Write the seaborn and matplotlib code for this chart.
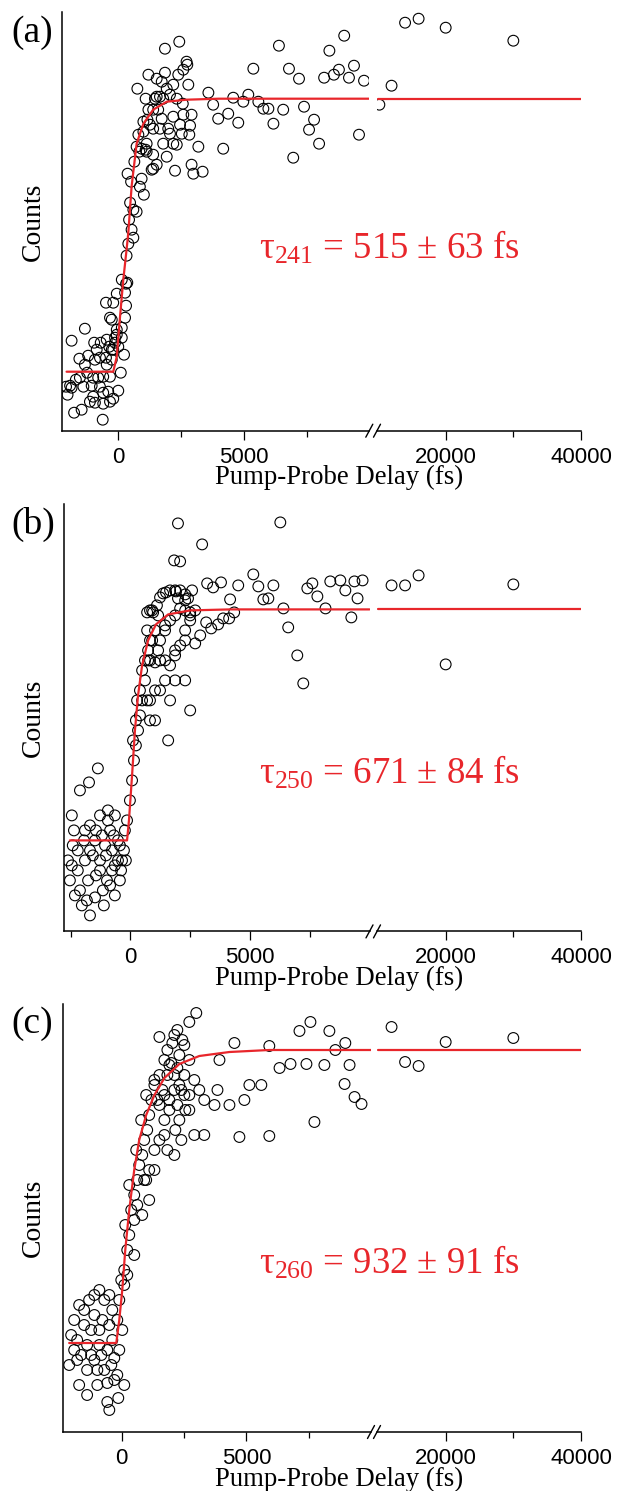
import numpy as np
import pandas as pd
import matplotlib
matplotlib.use("Agg")
import matplotlib.pyplot as plt
from matplotlib.lines import Line2D
import seaborn as sns

# ---------------- data (delay in fs, counts in arbitrary units) ----------------
# panel (a)
a_t = [-1860, -1330, -2080, -2020, -1920, -1760, -1460, -620, -1550, -1200, -960, -700, -460, -360,
       -860, -1330, -930, -730, -490, -260, -260, -130, -60, 140, 230, 100, -1690, -1530, -1240, -1000,
       -800, -600, -330, -1390, -1060, -730, -1860, -1000, -600, -400, 0, -200, -930, -600, -1130, -330,
       -460, -130, -330, -260, -60, 0, -200, -490, -200, -60, 140, 310, 360, 270, 310, 270, 140, 330,
       370, 510, 640, 470, 600, 730, 860, 1020, 930, 430, 530, 600, 400, 840, 930, 730, 1130, 1090, 800,
       1000, 1160, 1000, 1260, 1390, 1200, 1390, 1590, 1090, 1460, 1660, 760, 1200, 1530, 1860, 1730,
       1930, 2190, 2390, 2790, 2590, 2750, 2720, 1860, 2430, 1530, 1790, 2060, 2330, 2570, 2920, 2590,
       2190, 1730, 1990, 1660, 2460, 2860, 2830, 2530, 2060, 1790, 2190, 2330, 1390, 1930, 1130, 1530,
       1390, 1330, 2260, 2920, 2990, 3360, 3190, 3590, 3780, 3980, 4180, 4380, 4580, 4780, 4980, 5180,
       5380, 5580, 5780, 5980, 6180, 6400, 6570, 6800, 6970, 7200, 7400, 7600, 7800, 8000, 8200, 8410,
       8590, 8790, 9000, 9190, 9390, 9590, 9790, 10200, 12000, 14000, 16000, 20000, 30000]
a_c = [90, 102, 44, 36, 45, 18, 21, 11, 72, 75, 88, 88, 91, 84,
       81, 66, 71, 73, 73, 81, 71, 88, 96, 93, 76, 58, 51, 53, 58, 53,
       53, 54, 54, 44, 45, 44, 43, 34, 38, 39, 40, 32, 28, 27, 29, 29,
       66, 93, 113, 111, 101, 84, 81, 128, 128, 137, 151, 147, 148, 138, 125, 113, 103, 175,
       257, 249, 269, 228, 221, 219, 244, 236, 252, 211, 201, 193, 187, 279, 282, 284, 287, 281, 296,
       299, 311, 309, 306, 302, 321, 321, 321, 332, 332, 334, 342, 356, 352, 358, 349,
       342, 346, 356, 346, 361, 366, 369, 382, 389, 334, 332, 336, 332, 327, 316, 316,
       314, 312, 302, 302, 306, 305, 296, 297, 297, 287, 287, 286, 276, 274, 279, 266,
       262, 261, 260, 266, 257, 259, 284, 338, 326, 312, 282, 317, 333, 308, 329, 336,
       362, 329, 322, 322, 307, 385, 321, 362, 273, 352, 324, 301, 311, 287, 353, 380,
       356, 361, 395, 353, 365, 296, 350, 326, 345, 408, 412, 403, 390]
a_fit_t = [-2060, -200, -60, 70, 200, 330, 400, 530, 730, 1000, 1390, 1930, 2720, 4000, 10000]
a_fit_c = [59, 59, 74, 114, 151, 181, 198, 244, 287, 307, 321, 329, 331, 332, 332]

# panel (b)
b_t = [-2450, -2110, -1730, -1360, -2410, -2200, -1900, -1570, -1270, -980, -650, -440, -2450, -2530,
       -2110, -1820, -1480, -1110, -850, -1690, -2030, -2320, -520, -850, -1190, -1480, -1060, -770,
       -440, -230, -140, -940, -650, -1690, -350, -1900,
       -2360, -2200, -1940, -1690, -1440, -1270, -1020, -770, -520, -270, -1770, -1440, -1150, -650,
       -390, -190, -2610, -690, -940, -1270,
       -20, 70, 150, 110, 230, 280, 400, 490, 610, 740, 820, 700, 820, 1030, 1240, 910, 1030, 1160,
       1450, 1580, 1660, 1910, 1990, 1830, 2080, 1990, 2290, 2500, 2500, 2710, 2920, 2290, 1870, 1450,
       3000, 3170, 3210, 3380, 3460, 3670, 3790, 3880, 4130, 4170, 4340, 4510, 5140, 5350, 5560, 5770,
       5980, 6270, 6400, 6600, 6980, 7230, 7400, 7610, 7820, 8160, 8360, 8780, 8990, 9240, 9370, 9500,
       9710, 12000, 14000, 16000, 20000, 30000,
       700, 820, 950, 1110, 1240, 1370, 1490, 1870, 2080, 2290, 2410, 820, 1030, 1160, 1240, 1450,
       1660, 1870, 2080, 2290, 2500, 700, 910, 740, 610, 490, 400, 320, 230, 820, 1030, 1240, 1450,
       1660, 1870, 2080, 2290, 2500, 2710, 1870, 2290, 1660, 2580]
b_c = [116, 141, 149, 163, 86, 81, 71, 76, 61, 51, 66, 51, 66, 51,
       41, 31, 34, 26, 46, 16, 26, 36, 91, 101, 96, 91, 86, 81,
       86, 101, 111, 111, 116, 106, 71, 101,
       101, 61, 91, 81, 101, 71, 76, 61, 71, 81, 51, 56, 41, 36,
       61, 71, 71, 96, 121, 116,
       131, 151, 171, 191, 211, 231, 241, 261, 271, 281, 291, 231, 211, 241, 271, 321, 301, 316,
       301, 191, 341, 340, 333, 371, 370, 408, 331, 316, 221, 288, 296, 291, 281, 271,
       387, 309, 348, 303, 344, 307, 349, 313, 313, 332, 319, 346, 357, 345, 332, 333,
       346, 409, 323, 304, 276, 248, 343, 348, 335, 323, 350, 351, 341, 314, 350, 333,
       351, 346, 346, 356, 267, 347,
       319, 321, 319, 326, 334, 338, 339, 341, 341, 337, 333, 271, 269, 281, 291, 306,
       311, 316, 323, 321, 319, 301, 291, 271, 251, 231, 216, 201, 186, 231, 211, 241, 251,
       266, 276, 286, 301, 311, 321, 251, 251, 231, 341]
b_fit_t = [-2530, -140, -60, 70, 190, 320, 490, 740, 1070, 1580, 2500, 4170, 10000]
b_fit_c = [91, 91, 111, 156, 201, 236, 266, 291, 307, 317, 321, 322, 322]

# panel (c)
c_t = [-2030, -1910, -1710, -1510, -1310, -1100, -900, -700, -500, -1910, -1630, -1390, -1100, -820,
       -580, -300, -2110, -1710, -580, -180, -140, -580, -500, 100, -1390, -980, -420, -1230, -900,
       -500, -180, -100, -1790,
       -1510, -1100, -780, -380, -1790, -1230, -900, -380, -700, -300, -980, -1390, -100, 20,
       -20, 100, 220, 300, 140, 380, 500, 300, 620, 700, 820, 580, 900, 1020, 780, 1100, 1190, 980,
       1310, 1430, 1510, 1630, 1710, 1830, 1510, 2030, 2230, 2430, 2710, 2990, 1910, 2110, 2310, 2510,
       2710, 1910, 1710, 2310, 1510, 1310, 1100, 900, 2910, 3310, 3720, 4320, 4720, 4920, 5120, 5600,
       5920, 5920, 4520, 6330, 6770, 7130, 7410, 7570, 7730, 8130, 8330, 8570, 8970, 9140, 8940, 9340,
       9620, 12000, 14000, 16000, 20000, 30000,
       2110, 2510, 2310, 1990, 2230, 2510, 1830, 2710, 2910, 3110, 3310, 2710, 2390, 2110, 1910, 1710,
       1510, 1310, 2230, 2550, 2150, 2390, 1710, 1830, 2110, 1310, 980, 1100, 620, 820, 500, 500,
       220, 100, 3840, 3920]
c_c = [97, 112, 127, 122, 132, 137, 142, 132, 137, 82, 77, 87, 72, 77,
       82, 74, 67, 47, 49, 57, 34, 30, 22, 47, 62, 62, 67, 102, 102,
       107, 112, 132, 92,
       107, 117, 112, 122, 72, 77, 87, 92, 62, 52, 47, 37, 82, 102,
       152, 162, 182, 197, 207, 222, 237, 247, 252, 267, 277, 282, 292, 302, 312, 317, 332, 337,
       347, 332, 357, 342, 372, 382, 395, 389, 402, 392, 410, 419, 367, 357, 347, 337,
       322, 322, 312, 312, 292, 282, 262, 252, 297, 297, 327, 327, 295, 332, 347, 347,
       296, 386, 389, 364, 368, 401, 368, 410, 310, 367, 401, 382, 389, 367, 348, 335,
       328, 405, 370, 366, 390, 394,
       397, 387, 377, 369, 364, 357, 357, 372, 352, 342, 332, 337, 342, 342, 332, 337,
       327, 352, 327, 322, 302, 292, 297, 282, 277, 262, 252, 232, 227, 217, 212, 177,
       157, 147, 342, 372]
c_fit_t = [-2110, -220, -100, 20, 140, 300, 500, 700, 980, 1310, 1710, 2310, 3110, 4320, 5920, 10000]
c_fit_c = [89, 89, 112, 142, 182, 222, 262, 292, 317, 337, 354, 368, 376, 380, 382, 382]

labels = ["(a)", "(b)", "(c)"]
taus = ["τ$_{241}$ = 515 ± 63 fs", "τ$_{250}$ = 671 ± 84 fs", "τ$_{260}$ = 932 ± 91 fs"]
left_major = [0, 5000]
right_major = [20000, 40000]
right_minor = [30000]
xlabel = "Pump-Probe Delay (fs)"
ylabel = "Counts"

# ---------------- style ----------------
sns.set_theme(style="white")
plt.rcParams["font.family"] = ["Liberation Sans", "DejaVu Sans"]
plt.rcParams["mathtext.fontset"] = "custom"
plt.rcParams["mathtext.rm"] = "Liberation Serif"
plt.rcParams["mathtext.it"] = "Liberation Serif"
plt.rcParams["mathtext.bf"] = "Liberation Serif"
SERIF = ["Liberation Serif", "DejaVu Serif"]
RED = "#E8262B"

W, H = 617, 1491
fig = plt.figure(figsize=(W / 100, H / 100), dpi=100)

panels = [
    dict(t=a_t, c=a_c, ft=a_fit_t, fc=a_fit_c, L0=62.3, L1=369.3, top=12.3, bot=430.7,
         xl=(-2230, 10000), ymax=418.4, minor=[2500, 7500], ty=248),
    dict(t=b_t, c=b_c, ft=b_fit_t, fc=b_fit_c, L0=64.4, L1=369.5, top=504, bot=931.4,
         xl=(-2760, 10000), ymax=427.4, minor=[-2500, 2500, 7500], ty=773),
    dict(t=c_t, c=c_c, ft=c_fit_t, fc=c_fit_c, L0=63.2, L1=371.0, top=1004, bot=1432,
         xl=(-2350, 10000), ymax=428, minor=[2500, 7500], ty=1263),
]
R0, R1 = 377.0, 581.0
RXL = (9850, 40000)


def fbox(x0, x1, top, bot):
    return [x0 / W, 1 - bot / H, (x1 - x0) / W, (bot - top) / H]


for i, p in enumerate(panels):
    df = pd.DataFrame({"t": p["t"], "c": p["c"]})
    fit = pd.DataFrame({"t": p["ft"], "c": p["fc"]})
    axL = fig.add_axes(fbox(p["L0"], p["L1"], p["top"], p["bot"]))
    axR = fig.add_axes(fbox(R0, R1, p["top"], p["bot"]))
    for ax, sub, xl in [(axL, df[df.t < 9900], p["xl"]), (axR, df[df.t >= 9900], RXL)]:
        sns.scatterplot(data=sub, x="t", y="c", ax=ax, marker="o", s=60,
                        facecolor="none", edgecolor="black", linewidth=0.8, zorder=3)
        ax.set_xlim(*xl)
        ax.set_ylim(0, p["ymax"])
        ax.set_yticks([])
        ax.set_facecolor("none")
        for s in ["top", "right"]:
            ax.spines[s].set_visible(False)
        ax.spines["bottom"].set_color("black")
        ax.spines["bottom"].set_linewidth(1.1)
        ax.tick_params(axis="x", which="major", direction="out", length=6.5, width=0.9,
                       labelsize=16, pad=5, colors="black", bottom=True)
        ax.tick_params(axis="x", which="minor", direction="out", length=4.3, width=0.9,
                       colors="black", bottom=True)
    sns.lineplot(data=fit, x="t", y="c", ax=axL, color=RED, linewidth=1.6, sort=False,
                 estimator=None, zorder=4)
    rfit = pd.DataFrame({"t": [10000, 40000], "c": [p["fc"][-1], p["fc"][-1]]})
    sns.lineplot(data=rfit, x="t", y="c", ax=axR, color=RED, linewidth=1.6, sort=False,
                 estimator=None, zorder=4)
    for ax in (axL, axR):
        ax.set_xlabel("")
        ax.set_ylabel("")
    axL.spines["left"].set_color("black")
    axL.spines["left"].set_linewidth(1.1)
    axR.spines["left"].set_visible(False)
    axL.set_xticks(left_major)
    axL.set_xticklabels([str(v) for v in left_major])
    axL.set_xticks(p["minor"], minor=True)
    axR.set_xticks(right_major)
    axR.set_xticklabels([str(v) for v in right_major])
    axR.set_xticks(right_minor, minor=True)

    yb = 1 - p["bot"] / H
    for xb in [p["L1"], R0]:
        fig.add_artist(Line2D([(xb - 3.5) / W, (xb + 3.5) / W], [yb - 6.5 / H, yb + 6.5 / H],
                              transform=fig.transFigure, color="black", linewidth=1.0))

    fig.text(11 / W, 1 - (p["top"] + 20) / H, labels[i], fontsize=27, family=SERIF,
             ha="left", va="center", color="black")
    fig.text(33 / W, 1 - ((p["top"] + p["bot"]) / 2) / H, ylabel, fontsize=20, family=SERIF,
             rotation=90, ha="center", va="center", color="black")
    fig.text(339.5 / W, 1 - (p["bot"] + 47) / H, xlabel, fontsize=19.3, family=SERIF,
             ha="center", va="center", color="black")
    fig.text(389.5 / W, 1 - p["ty"] / H, taus[i], fontsize=26.5, family=SERIF,
             ha="center", va="center", color=RED)

fig.savefig("out.png", dpi=100, facecolor="white")
